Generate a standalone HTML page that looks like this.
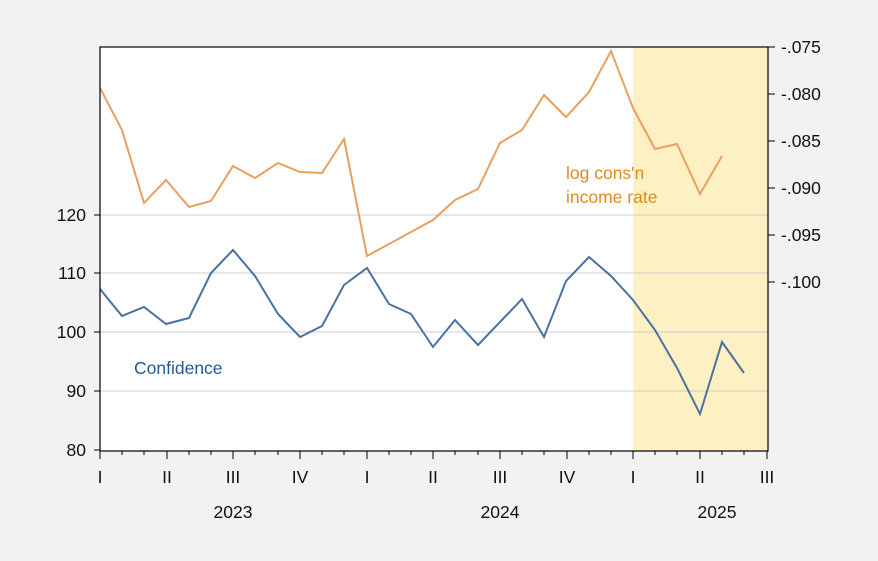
<!DOCTYPE html>
<html><head><meta charset="utf-8"><style>
html,body{margin:0;padding:0;background:#f2f2f2;}
svg{display:block;font-family:"Liberation Sans",sans-serif;}
</style></head><body>
<svg width="878" height="561" viewBox="0 0 878 561" xmlns="http://www.w3.org/2000/svg">
<rect x="0" y="0" width="878" height="561" fill="#f2f2f2"/>
<rect x="100" y="47" width="668" height="404" fill="#ffffff"/>
<rect x="633" y="47" width="135" height="404" fill="#fdf1c4"/>
<g stroke="#cccccc" stroke-width="1">
<line x1="100" y1="215" x2="768" y2="215"/>
<line x1="100" y1="273" x2="768" y2="273"/>
<line x1="100" y1="332" x2="768" y2="332"/>
<line x1="100" y1="391" x2="768" y2="391"/>
</g>
<polyline fill="none" stroke="#e8a060" stroke-width="2" points="100,88 122,130 144,203 166,180 189,207 211,201 233,166 255,178 278,163 300,172 322,173 344,139 367,256 389,244 411,232 433,220 455,200 478,189 500,143 522,130 544,95 566,117 589,92 611,51 633,108 655,149 677,144 700,194 722,156"/>
<polyline fill="none" stroke="#4a72a0" stroke-width="2" points="100,289 122,316 144,307 166,324 189,318 211,273 233,250 255,276 278,314 300,337 322,326 344,285 367,268 389,304 411,314 433,347 455,320 478,345 500,322 522,299 544,337 566,281 589,257 611,276 633,300 655,330 677,368 700,414 722,342 744,373"/>
<rect x="100" y="47" width="668" height="404" fill="none" stroke="#000" stroke-width="1.2"/>
<g stroke="#000" stroke-width="1">
<line x1="94" y1="215" x2="100" y2="215"/><line x1="94" y1="273" x2="100" y2="273"/><line x1="94" y1="332" x2="100" y2="332"/><line x1="94" y1="391" x2="100" y2="391"/><line x1="94" y1="450" x2="100" y2="450"/>
<line x1="768" y1="47" x2="775" y2="47"/><line x1="768" y1="94" x2="775" y2="94"/><line x1="768" y1="141" x2="775" y2="141"/><line x1="768" y1="188" x2="775" y2="188"/><line x1="768" y1="235" x2="775" y2="235"/><line x1="768" y1="282" x2="775" y2="282"/>
</g>
<g stroke="#000" stroke-width="1">
<line x1="100" y1="451" x2="100" y2="459"/><line x1="122" y1="451" x2="122" y2="455"/><line x1="144" y1="451" x2="144" y2="455"/>
<line x1="167" y1="451" x2="167" y2="459"/><line x1="189" y1="451" x2="189" y2="455"/><line x1="211" y1="451" x2="211" y2="455"/>
<line x1="233" y1="451" x2="233" y2="459"/><line x1="255" y1="451" x2="255" y2="455"/><line x1="278" y1="451" x2="278" y2="455"/>
<line x1="300" y1="451" x2="300" y2="459"/><line x1="322" y1="451" x2="322" y2="455"/><line x1="344" y1="451" x2="344" y2="455"/>
<line x1="367" y1="451" x2="367" y2="459"/><line x1="389" y1="451" x2="389" y2="455"/><line x1="411" y1="451" x2="411" y2="455"/>
<line x1="433" y1="451" x2="433" y2="459"/><line x1="455" y1="451" x2="455" y2="455"/><line x1="478" y1="451" x2="478" y2="455"/>
<line x1="500" y1="451" x2="500" y2="459"/><line x1="522" y1="451" x2="522" y2="455"/><line x1="544" y1="451" x2="544" y2="455"/>
<line x1="567" y1="451" x2="567" y2="459"/><line x1="589" y1="451" x2="589" y2="455"/><line x1="611" y1="451" x2="611" y2="455"/>
<line x1="633" y1="451" x2="633" y2="459"/><line x1="655" y1="451" x2="655" y2="455"/><line x1="677" y1="451" x2="677" y2="455"/>
<line x1="700" y1="451" x2="700" y2="459"/><line x1="722" y1="451" x2="722" y2="455"/><line x1="744" y1="451" x2="744" y2="455"/>
<line x1="767" y1="451" x2="767" y2="459"/>
</g>
<g font-size="17.5" fill="#111" text-anchor="end">
<text x="86" y="221">120</text><text x="86" y="279">110</text><text x="86" y="338">100</text><text x="86" y="397">90</text><text x="86" y="456">80</text>
</g>
<g font-size="17.5" fill="#111" text-anchor="start">
<text x="781" y="53">-.075</text><text x="781" y="100">-.080</text><text x="781" y="147">-.085</text><text x="781" y="194">-.090</text><text x="781" y="241">-.095</text><text x="781" y="288">-.100</text>
</g>
<g font-size="17.5" fill="#111" text-anchor="middle">
<text x="100" y="483">I</text><text x="167" y="483">II</text><text x="233" y="483">III</text><text x="300" y="483">IV</text>
<text x="367" y="483">I</text><text x="433" y="483">II</text><text x="500" y="483">III</text><text x="567" y="483">IV</text>
<text x="633" y="483">I</text><text x="700" y="483">II</text><text x="767" y="483">III</text>
<text x="233" y="518">2023</text><text x="500" y="518">2024</text><text x="717" y="518">2025</text>
</g>
<text x="134" y="374" font-size="17.5" fill="#245a94">Confidence</text>
<text x="566" y="179" font-size="17.5" fill="#e08a1e">log cons'n</text>
<text x="566" y="203" font-size="17.5" fill="#e08a1e">income rate</text>
</svg>
</body></html>
